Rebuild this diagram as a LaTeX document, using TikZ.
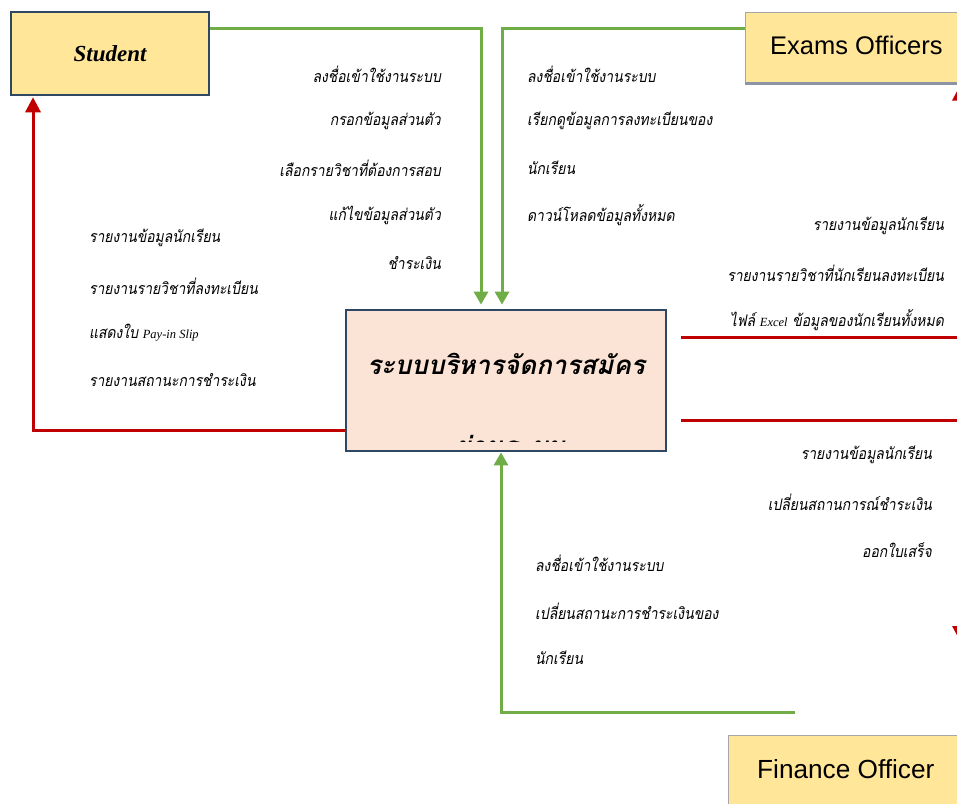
\documentclass[tikz,border=0pt]{standalone}
\usepackage{fontspec}
\setmainfont{Liberation Serif}
\newfontfamily\thai[Script=Thai]{Loma}
\newfontfamily\thainarrow[Script=Thai, FakeStretch=0.87]{Loma}
\newfontfamily\uisans{Liberation Sans}
\usetikzlibrary{arrows.meta,calc}
\definecolor{flowgreen}{HTML}{70AD47}
\definecolor{flowred}{HTML}{C00000}
\definecolor{boxedge}{HTML}{2E4763}
\definecolor{actorfill}{HTML}{FFE699}
\definecolor{sysfill}{HTML}{FBE4D5}
\definecolor{shadowgray}{HTML}{8A94A6}
\tikzset{
  actor/.style={draw=boxedge, line width=2.5pt, fill=actorfill, minimum width=198pt,
    minimum height=83pt, inner sep=0pt, font=\bfseries\itshape\fontsize{23}{26}\selectfont},
  role/.style={draw=gray!70, line width=1pt, fill=actorfill, inner sep=0pt},
  roletext/.style={anchor=west, inner sep=0pt},
  sysbox/.style={draw=boxedge, line width=2.8pt, fill=sysfill, minimum width=320pt,
    minimum height=141pt, inner sep=0pt},
  gline/.style={draw=flowgreen, line width=3pt, -{Triangle[width=14pt,length=13pt]}},
  rline/.style={draw=flowred, line width=3pt, -{Triangle[width=15pt,length=15pt]}},
  lbl/.style={inner sep=0pt, font=\thainarrow\itshape\fontsize{16}{19}\selectfont},
  lblr/.style={lbl, anchor=east},
  lbll/.style={lbl, anchor=west},
}
\newcommand{\latin}[1]{{\rmfamily\itshape\fontsize{12.5}{14}\selectfont #1}}
\begin{document}
\begin{tikzpicture}[x=1pt,y=-1pt]
\useasboundingbox (0,0) rectangle (957,803);
\clip (0,0) rectangle (957,803);
\fill[white] (0,0) rectangle (957,803);

% actors and the system process
\node[actor] (student) at (110,53.5) {Student};
\node[role, minimum width=225pt, minimum height=71pt] (exams) at (857.5,47.5) {};
\node[roletext, font=\uisans\fontsize{25.5}{29}\selectfont] (examstxt) at (770,45) {Exams Officers};
\draw[shadowgray, line width=3pt] (exams.south west) -- (exams.south east);
\node[role, minimum width=236pt, minimum height=80pt] (finance) at (846,775) {};
\node[roletext, font=\uisans\fontsize{26.2}{30}\selectfont] (fintxt) at (757,769) {Finance Officer};

\node[sysbox] (main) at (506,380.5) {};
\begin{scope}
  \clip (350,314) rectangle (662,441);
  \node[inner sep=0pt, anchor=base, font=\thai\bfseries\itshape\fontsize{26}{30}\selectfont] (title) at (506,374)
    {ระบบบริหารจัดการสมัคร};
  \node[inner sep=0pt, anchor=base, font=\thai\bfseries\itshape\fontsize{26}{30}\selectfont] (title2) at (510,455)
    {ผ่านระบบ};
\end{scope}

% free ends of the flows that leave the frame
\coordinate (finfree) at (795,712);
\coordinate (exr) at (681,337);
\coordinate (fir) at (681,420);
\coordinate (exrturn) at (960,337);
\coordinate (firturn) at (960,420);
\coordinate (firend) at (960,641);

% green data flows into the system
\draw[gline, shorten >=4pt] (student.east |- 0,28) -| ([xshift=-25pt]main.north);
\draw[gline, shorten >=4pt] (exams.west |- 0,28) -| ([xshift=-4pt]main.north);
\draw[gline] (finfree) -| ([xshift=-5pt]main.south);

% red data flows out of the system
\draw[rline, shorten >=1pt] (main.west |- 0,430) -| (student.south -| 33,0);
\draw[rline, shorten >=2pt] (exr) -- (exrturn) -- (exams.south -| exrturn);
\draw[rline] (fir) -- (firturn) -- (firend);

% Student -> system
\node[lblr] (s1) at (441,74) {ลงชื่อเข้าใช้งานระบบ};
\node[lblr] (s2) at (441,121) {กรอกข้อมูลส่วนตัว};
\node[lblr] (s3) at (441,168) {เลือกรายวิชาที่ต้องการสอบ};
\node[lblr] (s4) at (441,215) {แก้ไขข้อมูลส่วนตัว};
\node[lblr] (s5) at (441,263) {ชำระเงิน};

% Exams Officers -> system
\node[lbll] (e1) at (527,74) {ลงชื่อเข้าใช้งานระบบ};
\node[lbll] (e2) at (527,121) {เรียกดูข้อมูลการลงทะเบียนของ};
\node[lbll] (e3) at (527,168) {นักเรียน};
\node[lbll] (e4) at (527,215) {ดาวน์โหลดข้อมูลทั้งหมด};

% system -> Exams Officers
\node[lblr] (x1) at (944,226) {รายงานข้อมูลนักเรียน};
\node[lblr] (x2) at (944,273) {รายงานรายวิชาที่นักเรียนลงทะเบียน};
\node[lblr] (x3) at (944,320) {ไฟล์ \latin{Excel} ข้อมูลของนักเรียนทั้งหมด};

% system -> Student
\node[lbll] (r1) at (89,238) {รายงานข้อมูลนักเรียน};
\node[lbll] (r2) at (89,286) {รายงานรายวิชาที่ลงทะเบียน};
\node[lbll] (r3) at (89,333) {แสดงใบ \latin{Pay-in Slip}};
\node[lbll] (r4) at (89,380) {รายงานสถานะการชำระเงิน};

% system -> Finance Officer
\node[lblr] (f1) at (932,455) {รายงานข้อมูลนักเรียน};
\node[lblr] (f2) at (932,502) {เปลี่ยนสถานการณ์ชำระเงิน};
\node[lblr] (f3) at (932,550) {ออกใบเสร็จ};

% Finance Officer -> system
\node[lbll] (p1) at (535,563) {ลงชื่อเข้าใช้งานระบบ};
\node[lbll] (p2) at (535,611) {เปลี่ยนสถานะการชำระเงินของ};
\node[lbll] (p3) at (535,658) {นักเรียน};
\begin{scope}
  \clip (520,680) rectangle (700,691);
  \node[lbll] (p4) at (535,705) {ออกใบเสร็จ};
\end{scope}
\end{tikzpicture}
\end{document}
